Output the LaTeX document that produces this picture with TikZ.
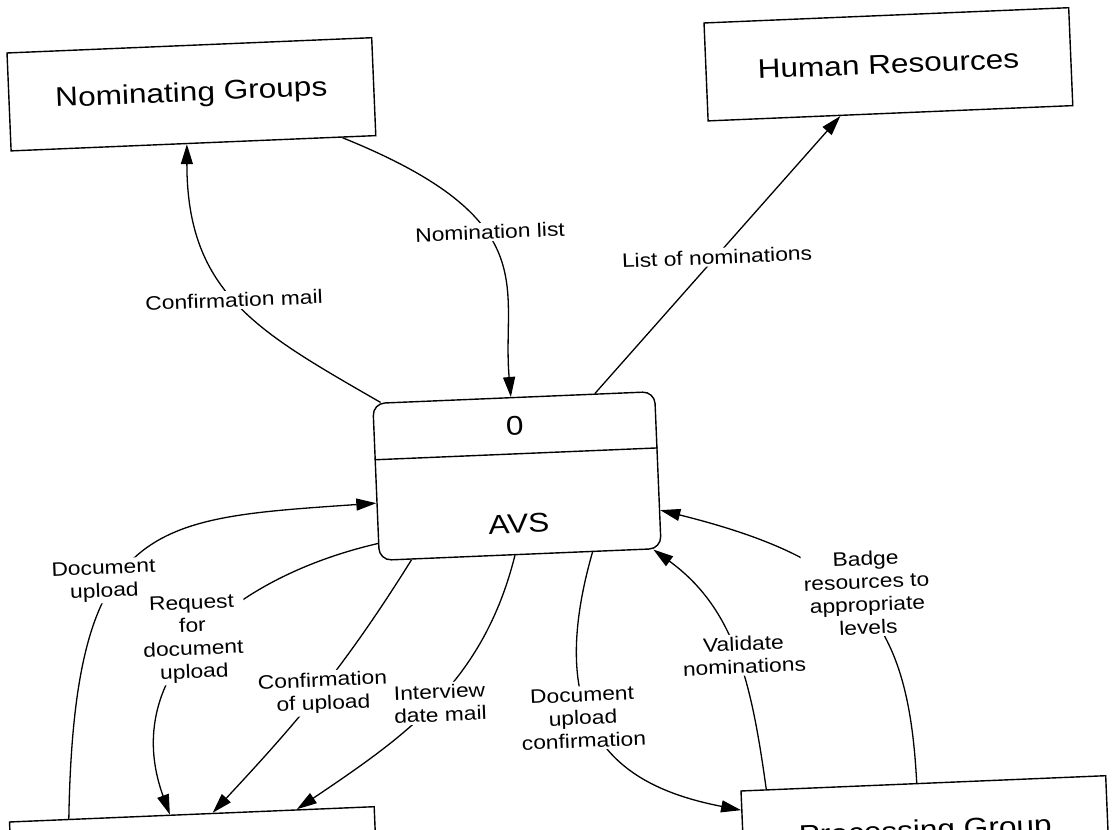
\documentclass[tikz,border=0pt]{standalone}
\usepackage{fontspec}
\setmainfont{Liberation Sans}
\newfontfamily\dfont[FakeStretch=1.17]{Liberation Sans}
\usetikzlibrary{arrows.meta,calc}
\begin{document}
\begin{tikzpicture}[x=1pt,y=1pt,
  every node/.append style={rotate=2.4},
  ext/.style={draw, line width=1.4pt, minimum width=365pt, minimum height=98pt, inner sep=0pt,
    font=\dfont\fontsize{27}{30}\selectfont},
  proc/.style={draw, line width=1.4pt, rounded corners=12pt, minimum width=282pt, minimum height=157pt, inner sep=0pt},
  ptext/.style={inner sep=0pt, font=\dfont\fontsize{27}{30}\selectfont},
  lbl/.style={fill=white, inner sep=2pt, align=center, font=\dfont\fontsize{19.5}{23}\selectfont},
  flow/.style={line width=1.3pt, -{Triangle[length=20pt,width=12pt]}},
  divider/.style={line width=1.4pt}
]
\useasboundingbox (0,0) rectangle (1117,-830);
\clip (0,0) rectangle (1117,-830);

% boxes
\node[ext] (ng) at (191.4,-94.3) {Nominating Groups};
\node[ext] (hr) at (888.4,-64.3) {Human Resources};
\node[proc] (avs) at (517,-476) {};
\node[ext] (bl) at (193.9,-863.3) {};
\node[ext] (pg) at (925.4,-832.3) {Processing Group};
\draw[divider] ($(avs.north west)!0.36!(avs.south west)$) -- ($(avs.north east)!0.36!(avs.south east)$);
\node[ptext] (num) at ($(avs.north)!0.18!(avs.south)$) {0};
\node[ptext] (name) at ($(avs.north)!0.8!(avs.south)$) {AVS};

% connectors
\draw[flow] ($(avs.north west)!0.03!(avs.north east)$) to[out=150,in=-90,out distance=140pt,in distance=150pt] ($(ng.south west)!0.482!(ng.south east)$);
\draw[flow] ($(ng.south west)!0.907!(ng.south east)$) to[out=-22,in=95,out distance=220pt,in distance=110pt] ($(avs.north west)!0.49!(avs.north east)$);
\draw[flow] ($(avs.north west)!0.787!(avs.north east)$) -- ($(hr.south west)!0.363!(hr.south east)$);
\draw[flow] ($(bl.north west)!0.164!(bl.north east)$) to[out=89,in=-176,out distance=300pt,in distance=225pt] ($(avs.north west)!0.634!(avs.south west)$);
\draw[flow] ($(avs.north west)!0.889!(avs.south west)$) to[out=193,in=110,out distance=150pt,in distance=150pt] ($(bl.north west)!0.44!(bl.north east)$);
\draw[flow] ($(avs.south west)!0.116!(avs.south east)$) to[out=238,in=47,out distance=126pt,in distance=126pt] ($(bl.north west)!0.557!(bl.north east)$);
\draw[flow] ($(avs.south west)!0.481!(avs.south east)$) to[out=256,in=34,out distance=131pt,in distance=131pt] ($(bl.north west)!0.787!(bl.north east)$);
\draw[flow] ($(avs.south west)!0.755!(avs.south east)$) to[out=254,in=169,out distance=190pt,in distance=120pt] ($(pg.north west)!0.2!(pg.south west)$);
\draw[flow] ($(pg.north west)!0.071!(pg.north east)$) to[out=98,in=-36,out distance=103pt,in distance=103pt] ($(avs.south west)!0.97!(avs.south east)$);
\draw[flow] ($(pg.north west)!0.482!(pg.north east)$) to[out=93,in=-14,out distance=160pt,in distance=210pt] ($(avs.north east)!0.753!(avs.south east)$);

% labels
\node[lbl] (l1) at (234,-300) {Confirmation mail};
\node[lbl] (l2) at (490,-232) {Nomination list};
\node[lbl] (l3) at (717,-257) {List of nominations};
\node[lbl] (l4) at (104,-581) {Document\\upload};
\node[lbl] (l5) at (193,-639) {Request\\for\\document\\upload};
\node[lbl] (l6) at (323,-693) {Confirmation\\of upload};
\node[lbl] (l7) at (440,-703) {Interview\\date mail};
\node[lbl] (l8) at (583,-718) {Document\\upload\\confirmation};
\node[lbl] (l9) at (744,-655) {Validate\\nominations};
\node[lbl] (l10) at (867,-593) {Badge\\resources to\\appropriate\\levels};
\end{tikzpicture}
\end{document}
